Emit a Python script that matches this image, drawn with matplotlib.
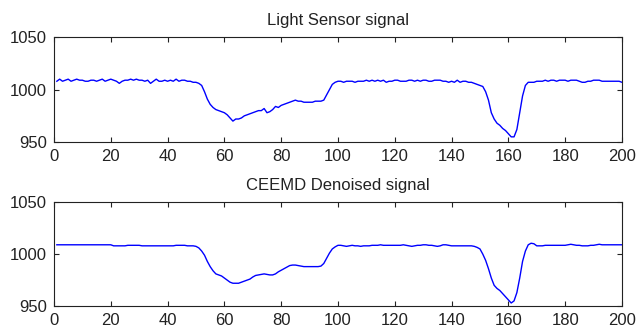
import numpy as np
import matplotlib
matplotlib.use('Agg')
import matplotlib.pyplot as plt

plt.rcParams['font.family'] = ['Liberation Sans', 'DejaVu Sans']

# Samples 1..200
samples = np.arange(1, 201)

# Raw light sensor readings
light_raw = [
    1008, 1010, 1008, 1009, 1010, 1008, 1009, 1010, 1009, 1009,
    1008, 1008, 1009, 1009, 1008, 1009, 1010, 1008, 1009, 1010,
    1009, 1008, 1006, 1008, 1009, 1009, 1010, 1009, 1010, 1009,
    1009, 1008, 1009, 1006, 1008, 1010, 1008, 1008, 1009, 1008,
    1009, 1008, 1010, 1008, 1009, 1009, 1008, 1008, 1007, 1007,
    1006, 1004, 998, 991, 986, 983, 981, 980, 979, 978,
    976, 973, 970, 972, 972, 973, 975, 976, 977, 978,
    979, 980, 980, 982, 978, 979, 981, 984, 983, 985,
    986, 987, 988, 989, 990, 989, 989, 988, 988, 988,
    988, 989, 989, 989, 990, 995, 1000, 1005, 1007, 1008,
    1008, 1007, 1008, 1008, 1008, 1007, 1008, 1008, 1008, 1009,
    1008, 1009, 1008, 1009, 1008, 1009, 1007, 1008, 1008, 1009,
    1009, 1008, 1008, 1008, 1009, 1009, 1008, 1009, 1008, 1009,
    1009, 1008, 1008, 1009, 1009, 1009, 1008, 1008, 1007, 1008,
    1007, 1009, 1007, 1008, 1008, 1007, 1007, 1006, 1005, 1004,
    1003, 998, 990, 978, 972, 968, 966, 963, 961, 958,
    955, 955, 962, 978, 994, 1004, 1007, 1007, 1007, 1008,
    1008, 1008, 1009, 1008, 1009, 1009, 1008, 1009, 1009, 1009,
    1008, 1009, 1009, 1009, 1008, 1007, 1007, 1008, 1008, 1009,
    1009, 1009, 1008, 1008, 1008, 1008, 1008, 1008, 1008, 1007,
]

# CEEMD denoised signal
denoised = [
    1009, 1009, 1009, 1009, 1009, 1009, 1009, 1009, 1009, 1009,
    1009, 1009, 1009, 1009, 1009, 1009, 1009, 1009, 1009, 1009,
    1008, 1008, 1008, 1008, 1008, 1008.5, 1008.5, 1008.5, 1008.5, 1008.5,
    1008, 1008, 1008, 1008, 1008, 1008, 1008, 1008, 1008, 1008,
    1008, 1008, 1008.5, 1008.5, 1008.5, 1008.5, 1008, 1008, 1008, 1007.5,
    1006, 1003, 999, 993, 988, 984, 981, 980, 979, 977,
    975, 973, 972, 972, 972, 973, 974, 975, 976, 978,
    979.5, 980, 980.5, 981, 980.5, 980, 980, 981, 983, 984.5,
    986, 987.5, 989, 989.5, 989.5, 989, 988.5, 988, 988, 988,
    988, 988, 988, 988.5, 991, 996, 1001, 1005, 1007, 1008.5,
    1008.5, 1008, 1007.5, 1008, 1008.5, 1008, 1008, 1007.5, 1008, 1008,
    1008, 1008.5, 1008.5, 1008.5, 1009, 1008.5, 1008.5, 1008.5, 1008.5, 1008.5,
    1008.5, 1008.5, 1009, 1008.5, 1008, 1007.5, 1008, 1008.5, 1008.5, 1009,
    1009, 1008.5, 1008.5, 1008, 1007.5, 1008, 1009, 1009, 1008.5, 1008,
    1008, 1008, 1008, 1008, 1008, 1008, 1008, 1007.5, 1006.5, 1005,
    1000, 994, 986, 977, 970, 967, 965, 962, 959, 956,
    953, 955, 963, 977, 993, 1003, 1009, 1010.5, 1010, 1008,
    1008, 1008, 1008.5, 1008.5, 1008.5, 1008.5, 1008.5, 1008.5, 1008.5, 1008.5,
    1009, 1009.5, 1009, 1008.5, 1008.5, 1008, 1008, 1008, 1008.5, 1008.5,
    1009, 1009.5, 1009, 1009, 1009, 1009, 1009, 1009, 1009, 1009,
]

titles = ['Light Sensor signal', 'CEEMD Denoised signal']
x_ticks = list(range(0, 201, 20))
y_ticks = [950, 1000, 1050]

fig = plt.figure(figsize=(6.36, 3.32), dpi=100)
ax1 = fig.add_axes([0.0849, 0.572, 0.893, 0.316])
ax2 = fig.add_axes([0.0849, 0.078, 0.893, 0.313])

for ax, data, title in zip([ax1, ax2], [light_raw, denoised], titles):
    ax.plot(samples, data, color='#0000ff', linewidth=1.0)
    ax.set_xlim(0, 200)
    ax.set_ylim(950, 1050)
    ax.set_xticks(x_ticks)
    ax.set_yticks(y_ticks)
    ax.tick_params(direction='in', top=True, right=True, length=3.5,
                   width=0.8, labelsize=12, pad=5, colors='#222222')
    for sp in ax.spines.values():
        sp.set_linewidth(0.8)
        sp.set_color('#222222')
    ax.set_title(title, fontsize=12, pad=9, color='#222222')

fig.savefig('out.png', dpi=100)
